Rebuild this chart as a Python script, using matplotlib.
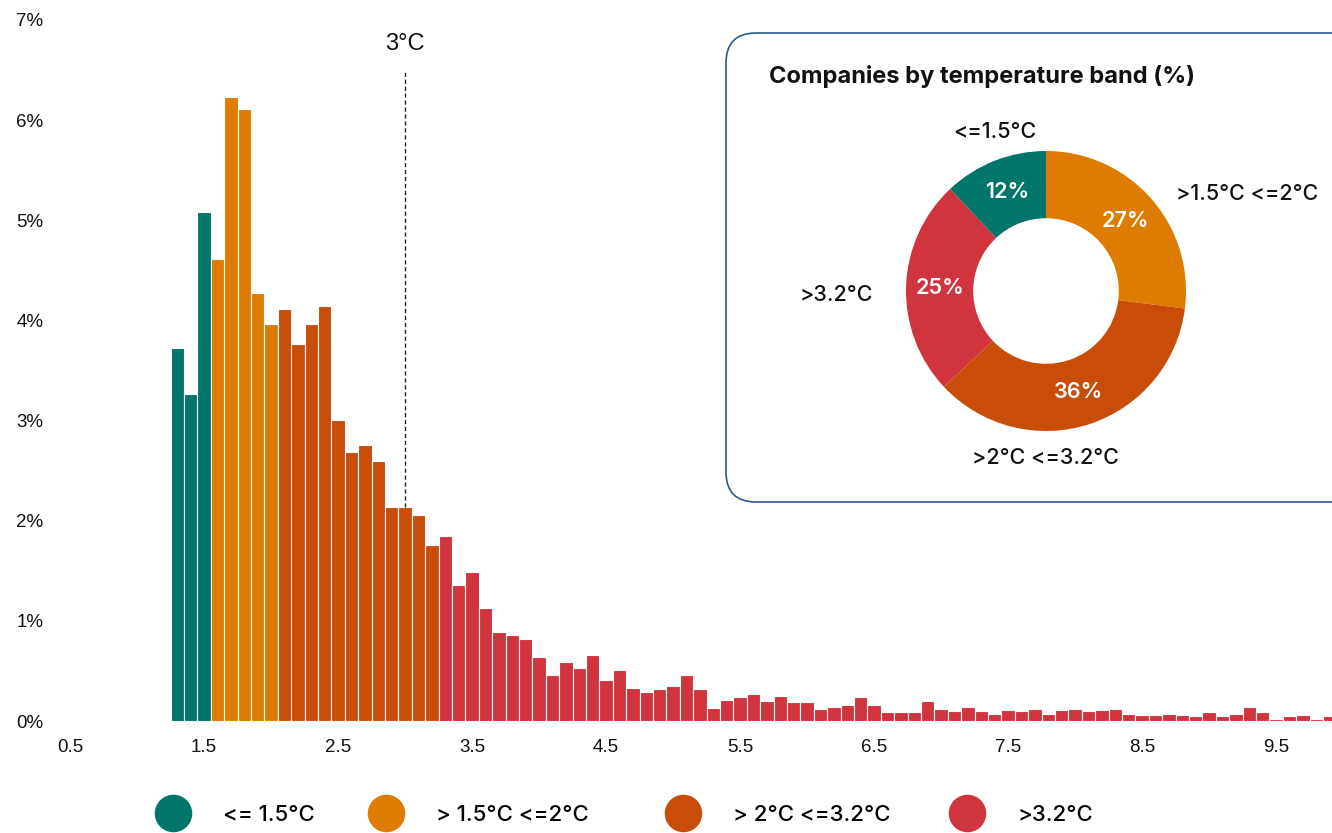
import numpy as np
import matplotlib.pyplot as plt
from matplotlib.lines import Line2D
from matplotlib.patches import FancyBboxPatch

# histogram of company temperature scores, bins of 0.1 centred on 1.3 .. 9.9
bin_centers = np.round(np.arange(1.3, 9.95, 0.1), 1)
share_pct = [
    3.72, 3.27, 5.08, 4.61, 6.23, 6.11, 4.27, 3.96, 4.11, 3.76,
    3.96, 4.14, 3.01, 2.69, 2.76, 2.60, 2.14, 2.14, 2.06, 1.76,
    1.85, 1.36, 1.49, 1.13, 0.89, 0.86, 0.82, 0.64, 0.46, 0.59,
    0.53, 0.66, 0.41, 0.51, 0.33, 0.29, 0.32, 0.35, 0.46, 0.32,
    0.13, 0.21, 0.24, 0.27, 0.20, 0.25, 0.19, 0.19, 0.12, 0.14,
    0.16, 0.24, 0.16, 0.09, 0.09, 0.09, 0.20, 0.12, 0.10, 0.14,
    0.10, 0.07, 0.11, 0.10, 0.12, 0.07, 0.11, 0.12, 0.10, 0.11,
    0.12, 0.07, 0.06, 0.06, 0.07, 0.06, 0.05, 0.09, 0.05, 0.07,
    0.14, 0.09, 0.02, 0.05, 0.06, 0.02, 0.05,
]
x_ticks = [0.5, 1.5, 2.5, 3.5, 4.5, 5.5, 6.5, 7.5, 8.5, 9.5]
y_ticks = [0, 1, 2, 3, 4, 5, 6, 7]
marker_temp = 3.0

band_labels = ["<= 1.5°C", "> 1.5°C <=2°C", "> 2°C <=3.2°C", ">3.2°C"]
band_upper = [1.5, 2.0, 3.2]
band_colors = ["#00766A", "#DD7C00", "#C84D08", "#D0343D"]

donut_labels = ["<=1.5°C", ">1.5°C <=2°C", ">2°C <=3.2°C", ">3.2°C"]
donut_pct = [12, 27, 36, 25]

W, H = 1332, 833
fig = plt.figure(figsize=(W / 100, H / 100), dpi=100)

# main histogram, placed so 0.5 sits at x=70px and 0% at y=721px
ax = fig.add_axes([70 / W, (H - 721) / H, 1262.3 / W, 701 / H])
band_idx = np.searchsorted(band_upper, bin_centers - 1e-9)
colors = [band_colors[i] for i in band_idx]
ax.bar(bin_centers, share_pct, width=0.1, color=colors,
       edgecolor="white", linewidth=0.8)
ax.set_xlim(0.5, 9.92)
ax.set_ylim(0, 7)
ax.set_xticks(x_ticks)
ax.set_xticklabels([f"{t:.1f}" for t in x_ticks])
ax.set_yticks(y_ticks)
ax.set_yticklabels([f"{t}%" for t in y_ticks])
ax.tick_params(length=0, labelsize=13.5, colors="#111111")
ax.tick_params(axis="y", pad=19)
ax.tick_params(axis="x", pad=13)
for lbl in ax.get_xticklabels() + ax.get_yticklabels():
    lbl.set_fontfamily("Liberation Sans")
for s in ax.spines.values():
    s.set_visible(False)

top_at_marker = share_pct[list(bin_centers).index(marker_temp)]
ax.vlines(marker_temp, top_at_marker, 6.5, colors="#222222",
          linestyles=(0, (3, 2)), linewidth=1)
ax.text(marker_temp, 6.76, "3°C", ha="center", va="center",
        fontsize=17, family="Liberation Sans", color="#111111")

# inset box
box = FancyBboxPatch((7.26, (H - 502) / 100), 7.0, 4.69,
                     boxstyle="round,pad=0,rounding_size=0.3",
                     transform=fig.dpi_scale_trans, facecolor="none",
                     edgecolor="#2A5A8C", linewidth=1.2)
fig.patches.append(box)
fig.text(769 / W, (H - 76) / H, "Companies by temperature band (%)",
         fontsize=17, fontweight="bold", family="Inter", color="#111111",
         va="center", ha="left")

# donut, 1 unit = 140px, centred at (1046, 291)
ax2 = fig.add_axes([(1046 - 210) / W, (H - 291 - 210) / H, 420 / W, 420 / H])
order = [1, 2, 3, 0]
ax2.pie([donut_pct[i] for i in order], colors=[band_colors[i] for i in order],
        startangle=90, counterclock=False, radius=1,
        wedgeprops=dict(width=0.48, linewidth=0),
        autopct="%d%%", pctdistance=0.76,
        textprops=dict(color="white", fontsize=15.5, fontweight="semibold",
                       family="Inter"))
ax2.set_xlim(-1.5, 1.5)
ax2.set_ylim(-1.5, 1.5)
ax2.set_aspect("equal")
ax2.axis("off")
label_pos = [(-0.367, 1.136), (1.436, 0.693), (0.0, -1.19), (-1.5, -0.03)]
for txt, (lx, ly) in zip(donut_labels, label_pos):
    ax2.text(lx, ly, txt, ha="center", va="center", fontsize=15.5,
             fontweight="medium", family="Inter", color="#111111",
             clip_on=False)

# bottom legend, one entry per anchor
circle_x = [173, 386, 683, 967]
fs = 16
for lab, col, cx in zip(band_labels, band_colors, circle_x):
    h = Line2D([], [], marker="o", ls="", markersize=26, color=col)
    anchor = (cx - 0.5 * fs * 100 / 72) / W
    fig.legend(handles=[h], labels=[lab], loc="center left",
               bbox_to_anchor=(anchor, (H - 815) / H), frameon=False,
               handlelength=1.0, handletextpad=1.75, borderpad=0,
               borderaxespad=0,
               prop=dict(family="Inter", size=fs, weight="medium"))

fig.savefig("out.png", dpi=100)
